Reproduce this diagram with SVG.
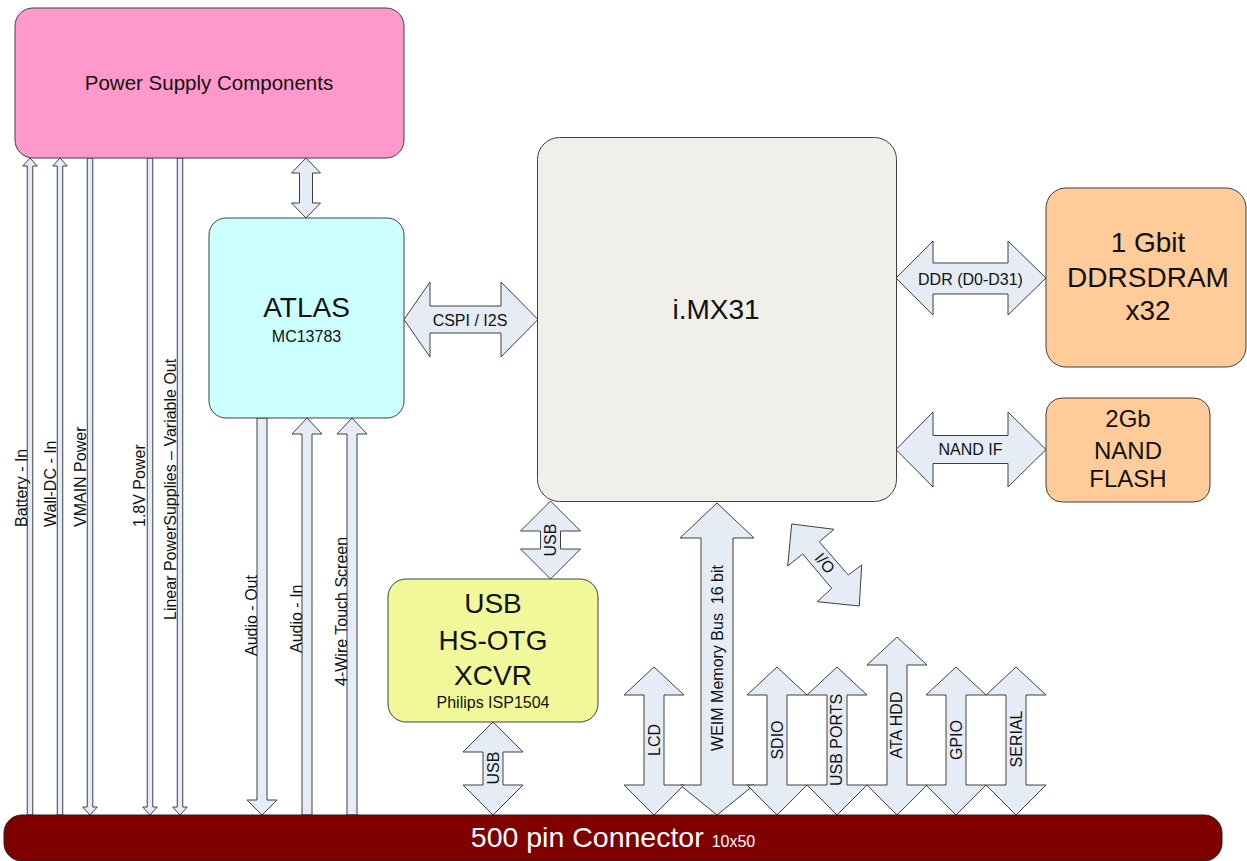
<svg xmlns="http://www.w3.org/2000/svg" width="1247" height="861" viewBox="0 0 1247 861">
<style>
text{font-family:"Liberation Sans",Arial,sans-serif;fill:#111}
.arr{fill:#E6ECF6;stroke:#404040;stroke-width:1}
.box{stroke:#404040;stroke-width:1}
.lbl{font-size:16px}
.big{font-size:28px;text-anchor:middle}
.mid{text-anchor:middle}
</style>
<rect width="1247" height="861" fill="#fff"/>
<g id="connectors">
  <!-- thin power arrows -->
  <polygon class="arr" points="30,158 37.3,166 32.75,166 32.75,815 27.25,815 27.25,166 22.7,166"/>
  <polygon class="arr" points="60,158 67.3,166 62.75,166 62.75,815 57.25,815 57.25,166 52.7,166"/>
  <polygon class="arr" points="87.25,158 92.75,158 92.75,807 97.3,807 90,815 82.7,807 87.25,807"/>
  <polygon class="arr" points="147.25,158 152.75,158 152.75,807 157.3,807 150,815 142.7,807 147.25,807"/>
  <polygon class="arr" points="177.25,158 182.75,158 182.75,807 187.3,807 180,815 172.7,807 177.25,807"/>
  <text class="lbl" transform="translate(27,527) rotate(-90)">Battery - In</text>
  <text class="lbl" transform="translate(56,527) rotate(-90)">Wall-DC - In</text>
  <text class="lbl" transform="translate(86,527) rotate(-90)">VMAIN Power</text>
  <text class="lbl" transform="translate(145,527) rotate(-90)">1.8V Power</text>
  <text class="lbl" transform="translate(176,620) rotate(-90)">Linear PowerSupplies – Variable Out</text>
  <!-- audio / touch -->
  <polygon class="arr" points="257,418 267,418 267,800 277,800 262,815 247,800 257,800"/>
  <polygon class="arr" points="307,418 322,434 312,434 312,815 302,815 302,434 292,434"/>
  <polygon class="arr" points="352,418 367,434 357,434 357,815 347,815 347,434 337,434"/>
  <text class="lbl" transform="translate(257,656) rotate(-90)">Audio - Out</text>
  <text class="lbl" transform="translate(302,653) rotate(-90)">Audio - In</text>
  <text class="lbl" transform="translate(347,686) rotate(-90)">4-Wire Touch Screen</text>
  <!-- PS to ATLAS -->
  <polygon class="arr" points="306,158 320.5,173 312.5,173 312.5,203 320.5,203 306,218 291.5,203 299.5,203 299.5,173 291.5,173"/>
  <!-- CSPI -->
  <polygon class="arr" points="404,319.5 430,282 430,306 501,306 501,282 538,319.5 501,357 501,333 430,333 430,357"/>
  <text class="lbl mid" x="470" y="326">CSPI / I2S</text>
  <!-- DDR -->
  <polygon class="arr" points="896,278 933,241 933,263 1008,263 1008,241 1046,278 1008,315 1008,294 933,294 933,315"/>
  <text class="lbl mid" x="970.5" y="284.5">DDR (D0-D31)</text>
  <!-- NAND IF -->
  <polygon class="arr" points="896,449.5 933,412 933,435.5 1008,435.5 1008,412 1046,449.5 1008,487 1008,463.5 933,463.5 933,487"/>
  <text class="lbl mid" x="970.5" y="455">NAND IF</text>
  <!-- USB top -->
  <polygon class="arr" points="550.5,501 580.5,531 560.5,531 560.5,549 580.5,549 550.5,579 520.5,549 540.5,549 540.5,531 520.5,531"/>
  <text class="lbl mid" transform="translate(556,540) rotate(-90)">USB</text>
  <!-- USB bottom -->
  <polygon class="arr" points="493,722 523,752 503,752 503,785 523,785 493,815 463,785 483,785 483,752 463,752"/>
  <text class="lbl mid" transform="translate(498.5,768) rotate(-90)">USB</text>
  <!-- WEIM -->
  <polygon class="arr" points="717,503 754,538 733,538 733,785 754,785 717,815 680,785 701,785 701,538 680,538"/>
  <text class="lbl mid" transform="translate(723,658) rotate(-90)" xml:space="preserve">WEIM Memory Bus  16 bit</text>
  <!-- I/O -->
  <polygon class="arr" points="791.7,524 834,529.3 819.3,541.7 848.3,575 861.7,565 859.3,606 817.3,601.7 831.7,588.3 802.7,554 787.7,566"/>
  <text class="lbl mid" transform="translate(825,563) rotate(50.5)" y="5.7">I/O</text>
  <!-- bus arrows -->
  <polygon class="arr" points="654,667 684,695 664,695 664,785 684,785 654,815 624,785 644,785 644,695 624,695"/>
  <polygon class="arr" points="777,667 807,695 787,695 787,785 807,785 777,815 747,785 767,785 767,695 747,695"/>
  <polygon class="arr" points="837,667 867,695 847,695 847,785 867,785 837,815 807,785 827,785 827,695 807,695"/>
  <polygon class="arr" points="897,637 927,665 907,665 907,785 927,785 897,815 867,785 887,785 887,665 867,665"/>
  <polygon class="arr" points="956,667 986,695 966,695 966,785 986,785 956,815 926,785 946,785 946,695 926,695"/>
  <polygon class="arr" points="1016,667 1046,695 1026,695 1026,785 1046,785 1016,815 986,785 1006,785 1006,695 986,695"/>
  <text class="lbl mid" transform="translate(660,740) rotate(-90)">LCD</text>
  <text class="lbl mid" transform="translate(783,740) rotate(-90)">SDIO</text>
  <text class="lbl mid" transform="translate(842,740) rotate(-90)">USB PORTS</text>
  <text class="lbl mid" transform="translate(902,725) rotate(-90)">ATA HDD</text>
  <text class="lbl mid" transform="translate(962,740) rotate(-90)">GPIO</text>
  <text class="lbl mid" transform="translate(1022,739) rotate(-90)">SERIAL</text>
</g>
<g id="power-supply">
  <rect class="box" x="15" y="8" width="389" height="150" rx="18" fill="#FF99CC"/>
  <text class="mid" x="209" y="90" font-size="20.5">Power Supply Components</text>
</g>
<g id="atlas">
  <rect class="box" x="209" y="218" width="195" height="200" rx="17" fill="#CCFFFF"/>
  <text class="big" x="306.5" y="317">ATLAS</text>
  <text class="mid" x="306.5" y="342" font-size="16">MC13783</text>
</g>
<g id="imx31">
  <rect class="box" x="537.5" y="137.5" width="359" height="364" rx="22" fill="#F0EFEA"/>
  <text class="big" x="716" y="319">i.MX31</text>
</g>
<g id="ddrsdram">
  <rect class="box" x="1046" y="188" width="200" height="179" rx="20" fill="#FFCC99"/>
  <text class="big" x="1148" y="252">1 Gbit</text>
  <text class="big" x="1148" y="287">DDRSDRAM</text>
  <text class="big" x="1148" y="320">x32</text>
</g>
<g id="nand-flash">
  <rect class="box" x="1046" y="398" width="164" height="104" rx="16" fill="#FFCC99"/>
  <text class="mid" x="1128" y="427" font-size="24">2Gb</text>
  <text class="mid" x="1128" y="459" font-size="24">NAND</text>
  <text class="mid" x="1128" y="487" font-size="24">FLASH</text>
</g>
<g id="usb-xcvr">
  <rect class="box" x="388" y="579" width="210" height="143" rx="18" fill="#F0F89A"/>
  <text class="big" x="493" y="613">USB</text>
  <text class="big" x="493" y="650">HS-OTG</text>
  <text class="big" x="493" y="685">XCVR</text>
  <text class="mid" x="493" y="708" font-size="16">Philips ISP1504</text>
</g>
<g id="connector-500">
  <rect x="4" y="815" width="1218" height="46" rx="18" fill="#800000" stroke="#202020" stroke-width="1"/>
  <text class="mid" x="613" y="847" style="fill:#fff" font-size="28.5">500 pin Connector <tspan font-size="16">10x50</tspan></text>
</g>
</svg>
